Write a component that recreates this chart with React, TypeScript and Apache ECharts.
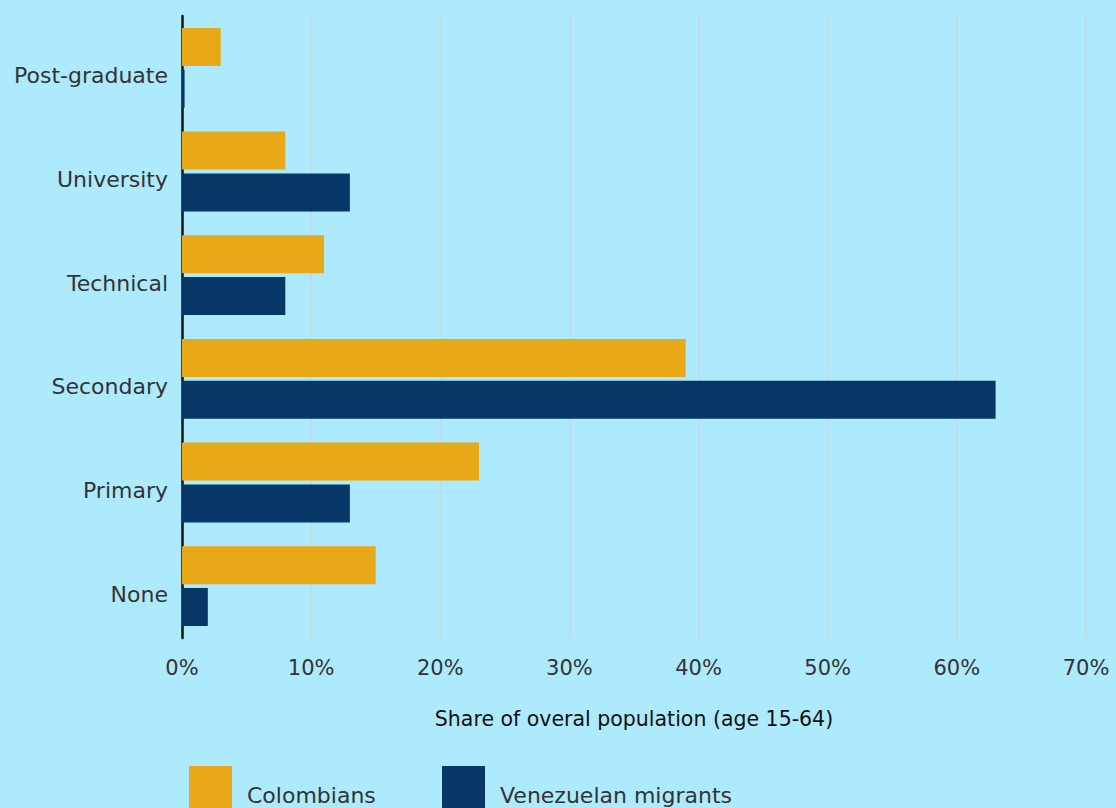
import React, { useEffect, useRef } from "react";
import * as echarts from "echarts";

const categories = ["None", "Primary", "Secondary", "Technical", "University", "Post-graduate"];
const colombians = [15, 23, 39, 11, 8, 3];
const venezuelans = [2, 13, 63, 8, 13, 0.2];
const seriesNames = ["Colombians", "Venezuelan migrants"];
const xTicks = [0, 10, 20, 30, 40, 50, 60, 70];
const axisName = "Share of overal population (age 15-64)";

export default function App() {
  const ref = useRef<HTMLDivElement>(null);
  useEffect(() => {
    const chart = echarts.init(ref.current!, null, { renderer: "svg" });
    const font = "'DejaVu Sans', sans-serif";
    const legendText = {
      fontSize: 22,
      color: "#333",
      fontFamily: font,
      rich: {
        t: { fontSize: 22, color: "#333", fontFamily: font, padding: [15, 0, 0, 10] },
      },
    };
    const legendFormatter = (name: string) => `{t|${name}}`;
    chart.setOption({
      animation: false,
      backgroundColor: "#aeeafd",
      textStyle: { fontFamily: font },
      grid: { left: 182, right: 30, top: 16, bottom: 170, containLabel: false },
      legend: [
        {
          left: 189,
          top: 766,
          padding: 0,
          itemWidth: 43,
          itemHeight: 43,
          icon: "rect",
          data: [seriesNames[0]],
          formatter: legendFormatter,
          textStyle: legendText,
        },
        {
          left: 442,
          top: 766,
          padding: 0,
          itemWidth: 43,
          itemHeight: 43,
          icon: "rect",
          data: [seriesNames[1]],
          formatter: legendFormatter,
          textStyle: legendText,
        },
      ],
      xAxis: {
        type: "value",
        min: xTicks[0],
        max: xTicks[xTicks.length - 1],
        interval: 10,
        axisLine: { show: false },
        axisTick: { show: false },
        splitLine: { show: true, lineStyle: { color: "#c9d6dc", width: 1.5 } },
        axisLabel: { formatter: "{value}%", fontSize: 21, color: "#333", margin: 19, fontFamily: font },
        name: axisName,
        nameLocation: "middle",
        nameGap: 70,
        nameTextStyle: { fontSize: 20.5, color: "#111", fontFamily: font },
      },
      yAxis: {
        type: "category",
        data: categories,
        axisLine: { show: true, lineStyle: { color: "#111", width: 2.5 } },
        axisTick: { show: false },
        axisLabel: {
          fontSize: 22,
          color: "#333",
          margin: 14,
          verticalAlign: "top",
          lineHeight: 16,
          fontFamily: font,
        },
      },
      series: [
        {
          name: seriesNames[0],
          type: "bar",
          data: colombians,
          itemStyle: { color: "#e8a818" },
          barWidth: 38,
          barGap: "10%",
        },
        {
          name: seriesNames[1],
          type: "bar",
          data: venezuelans,
          itemStyle: { color: "#063767" },
          barWidth: 38,
          barGap: "10%",
        },
      ],
    });
    return () => chart.dispose();
  }, []);
  return <div ref={ref} style={{ position: "fixed", left: 0, top: 0, width: 1116, height: 808 }} />;
}
